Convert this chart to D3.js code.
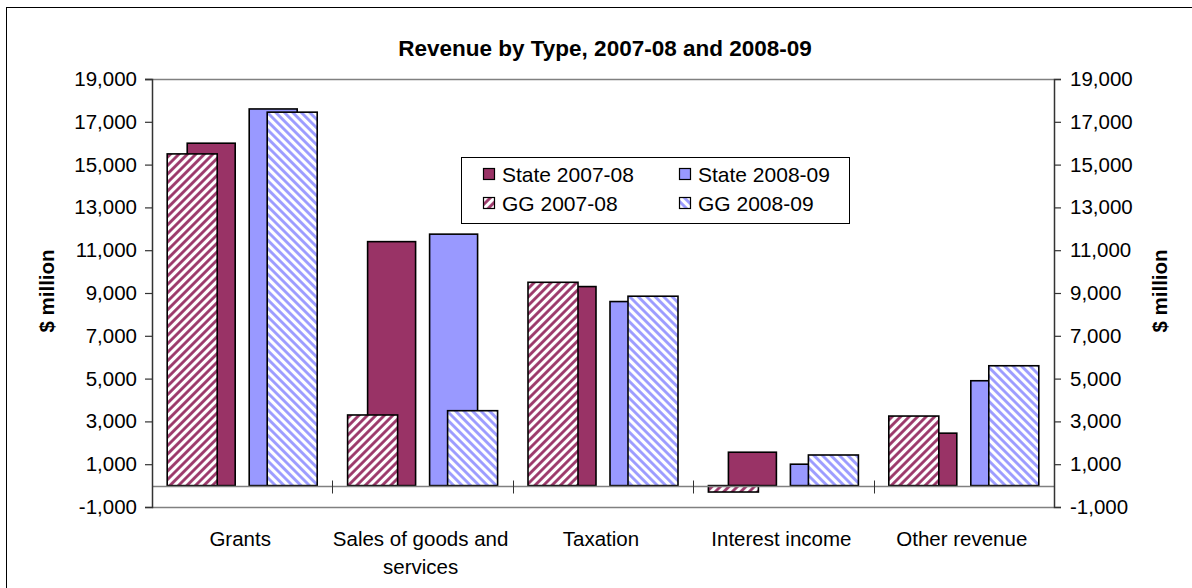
<!DOCTYPE html>
<html>
<head>
<meta charset="utf-8">
<script src="https://cdn.jsdelivr.net/npm/d3@7"></script>
<style>
  body { margin: 0; background: #fff; }
  svg { display: block; font-family: Arial, "Liberation Sans", sans-serif; }
</style>
</head>
<body>
<script>
// data, $ million
var categories = ['Grants', 'Sales of goods and services', 'Taxation', 'Interest income', 'Other revenue'];
var state0708 = [16000, 11400, 9300, 1560, 2450];
var state0809 = [17600, 11750, 8600, 1000, 4900];
var gg0708 = [15500, 3300, 9500, -300, 3250];
var gg0809 = [17450, 3500, 8850, 1430, 5600];
var tickValues = [-1000, 1000, 3000, 5000, 7000, 9000, 11000, 13000, 15000, 17000, 19000];

var W = 1192, H = 588;
var plotLeft = 152, plotRight = 1054, plotTop = 79, plotBottom = 507;

var svg = d3.select('body').append('svg')
  .attr('width', W)
  .attr('height', H);

// hatch patterns
var defs = svg.append('defs');
function hatch(id, color, angle) {
  var p = defs.append('pattern')
    .attr('id', id)
    .attr('patternUnits', 'userSpaceOnUse')
    .attr('width', 6)
    .attr('height', 6)
    .attr('patternTransform', 'rotate(' + angle + ')');
  p.append('rect').attr('width', 6).attr('height', 6).attr('fill', '#fff');
  p.append('line')
    .attr('x1', 1.5).attr('y1', 0).attr('x2', 1.5).attr('y2', 6)
    .attr('stroke', color).attr('stroke-width', 2.8);
}
hatch('hatchMaroon', '#993366', 45);
hatch('hatchBlue', '#9999ff', -45);

// outer chart border (runs off the right and bottom)
svg.append('rect')
  .attr('x', 6.5).attr('y', 7.5)
  .attr('width', 1300).attr('height', 700)
  .attr('fill', 'none')
  .attr('stroke', '#000')
  .attr('stroke-width', 1);

var x = d3.scaleBand().domain(categories).range([plotLeft, plotRight]);
var y = d3.scaleLinear().domain([-1000, 19000]).range([plotBottom, plotTop]);

var xState = d3.scaleBand().domain([0, 1]).range([0, x.bandwidth()])
  .paddingInner(0.226).paddingOuter(0.568);
var xGG = d3.scaleBand().domain([0, 1]).range([0, x.bandwidth()])
  .paddingInner(0.5).paddingOuter(0.152);

// plot area top / bottom border
svg.append('line')
  .attr('x1', plotLeft - 7).attr('x2', plotRight).attr('y1', plotTop + 0.5).attr('y2', plotTop + 0.5)
  .attr('stroke', '#808080').attr('stroke-width', 1.5);
svg.append('line')
  .attr('x1', plotLeft).attr('x2', plotRight).attr('y1', plotBottom + 0.5).attr('y2', plotBottom + 0.5)
  .attr('stroke', '#808080').attr('stroke-width', 1.5);

// bars
function drawBars(values, series, xi, fill) {
  svg.append('g')
    .selectAll('rect')
    .data(values)
    .enter()
    .append('rect')
    .attr('x', function(d, i) { return x(categories[i]) + xi(series); })
    .attr('y', function(d) { return y(Math.max(0, d)); })
    .attr('width', xi.bandwidth())
    .attr('height', function(d) { return Math.abs(y(d) - y(0)); })
    .attr('fill', fill)
    .attr('stroke', '#000')
    .attr('stroke-width', 1.6);
}
drawBars(state0708, 0, xState, '#993366');
drawBars(state0809, 1, xState, '#9999ff');
drawBars(gg0708, 0, xGG, 'url(#hatchMaroon)');
drawBars(gg0809, 1, xGG, 'url(#hatchBlue)');

// category axis at zero
var y0 = Math.round(y(0)) + 0.5;
svg.append('line')
  .attr('x1', plotLeft).attr('x2', plotRight).attr('y1', y0).attr('y2', y0)
  .attr('stroke', '#808080').attr('stroke-width', 1.5);
svg.append('g')
  .selectAll('line')
  .data(categories.slice(1))
  .enter()
  .append('line')
  .attr('x1', function(d) { return Math.round(x(d)) + 0.5; })
  .attr('x2', function(d) { return Math.round(x(d)) + 0.5; })
  .attr('y1', y0 - 6).attr('y2', y0 + 7)
  .attr('stroke', '#333').attr('stroke-width', 1);

// category labels, wrapped
var catLabels = svg.append('g')
  .attr('font-size', '20.5px')
  .attr('fill', '#000')
  .attr('text-anchor', 'middle');
categories.forEach(function(c) {
  var cx = x(c) + x.bandwidth() / 2 - 2;
  var t = catLabels.append('text').attr('x', cx).attr('y', 546);
  var words = c.split(' ');
  var line = [];
  var span = t.append('tspan').attr('x', cx);
  words.forEach(function(w) {
    line.push(w);
    span.text(line.join(' '));
    if (span.node().getComputedTextLength() > 178 && line.length > 1) {
      line.pop();
      span.text(line.join(' '));
      line = [w];
      span = t.append('tspan')
        .attr('x', cx)
        .attr('dy', 28)
        .text(w);
    }
  });
});

// value axes
var fmt = d3.format(',');
var leftAxis = d3.axisLeft(y).tickValues(tickValues).tickSize(7).tickPadding(8);
var rightAxis = d3.axisRight(y).tickValues(tickValues).tickSize(7).tickPadding(9);

function styleAxis(g) {
  g.select('.domain').attr('stroke', '#333').attr('stroke-width', 1.5);
  g.selectAll('.tick line').attr('stroke', '#333').attr('stroke-width', 1.2);
  g.selectAll('.tick text')
    .attr('font-size', '20.5px')
    .attr('font-family', 'Arial, "Liberation Sans", sans-serif')
    .attr('fill', '#000')
    .text(function(d) { return d < 0 ? '-' + fmt(-d) : fmt(d); });
}
svg.append('g').attr('transform', 'translate(' + plotLeft + ',0)').call(leftAxis).call(styleAxis);
svg.append('g').attr('transform', 'translate(' + plotRight + ',0)').call(rightAxis).call(styleAxis);

// axis titles
var midY = (plotTop + plotBottom) / 2 - 2;
svg.append('text')
  .attr('transform', 'translate(54,' + midY + ') rotate(-90)')
  .attr('text-anchor', 'middle')
  .attr('font-size', '20.5px')
  .attr('font-weight', 'bold')
  .text('$ million');
svg.append('text')
  .attr('transform', 'translate(1167,' + midY + ') rotate(-90)')
  .attr('text-anchor', 'middle')
  .attr('font-size', '20.5px')
  .attr('font-weight', 'bold')
  .text('$ million');

// title
svg.append('text')
  .attr('x', (plotLeft + plotRight) / 2 + 2)
  .attr('y', 56)
  .attr('text-anchor', 'middle')
  .attr('font-size', '22.5px')
  .attr('font-weight', 'bold')
  .text('Revenue by Type, 2007-08 and 2008-09');

// legend
var legendItems = [
  { name: 'State 2007-08', fill: '#993366', col: 0, row: 0 },
  { name: 'State 2008-09', fill: '#9999ff', col: 1, row: 0 },
  { name: 'GG 2007-08', fill: 'url(#hatchMaroon)', col: 0, row: 1 },
  { name: 'GG 2008-09', fill: 'url(#hatchBlue)', col: 1, row: 1 }
];
var legend = svg.append('g');
legend.append('rect')
  .attr('x', 461.5).attr('y', 157.5)
  .attr('width', 388).attr('height', 66)
  .attr('fill', '#fff')
  .attr('stroke', '#000')
  .attr('stroke-width', 1);
var li = legend.selectAll('g.item')
  .data(legendItems)
  .enter()
  .append('g')
  .attr('class', 'item')
  .attr('transform', function(d) {
    return 'translate(' + (483 + d.col * 196) + ',' + (174 + d.row * 29) + ')';
  });
li.append('rect')
  .attr('x', 0.5).attr('y', -5.5)
  .attr('width', 11).attr('height', 11)
  .attr('fill', function(d) { return d.fill; })
  .attr('stroke', '#000')
  .attr('stroke-width', 1.2);
li.append('text')
  .attr('x', 19)
  .attr('y', 7.5)
  .attr('font-size', '21px')
  .text(function(d) { return d.name; });
</script>
</body>
</html>
